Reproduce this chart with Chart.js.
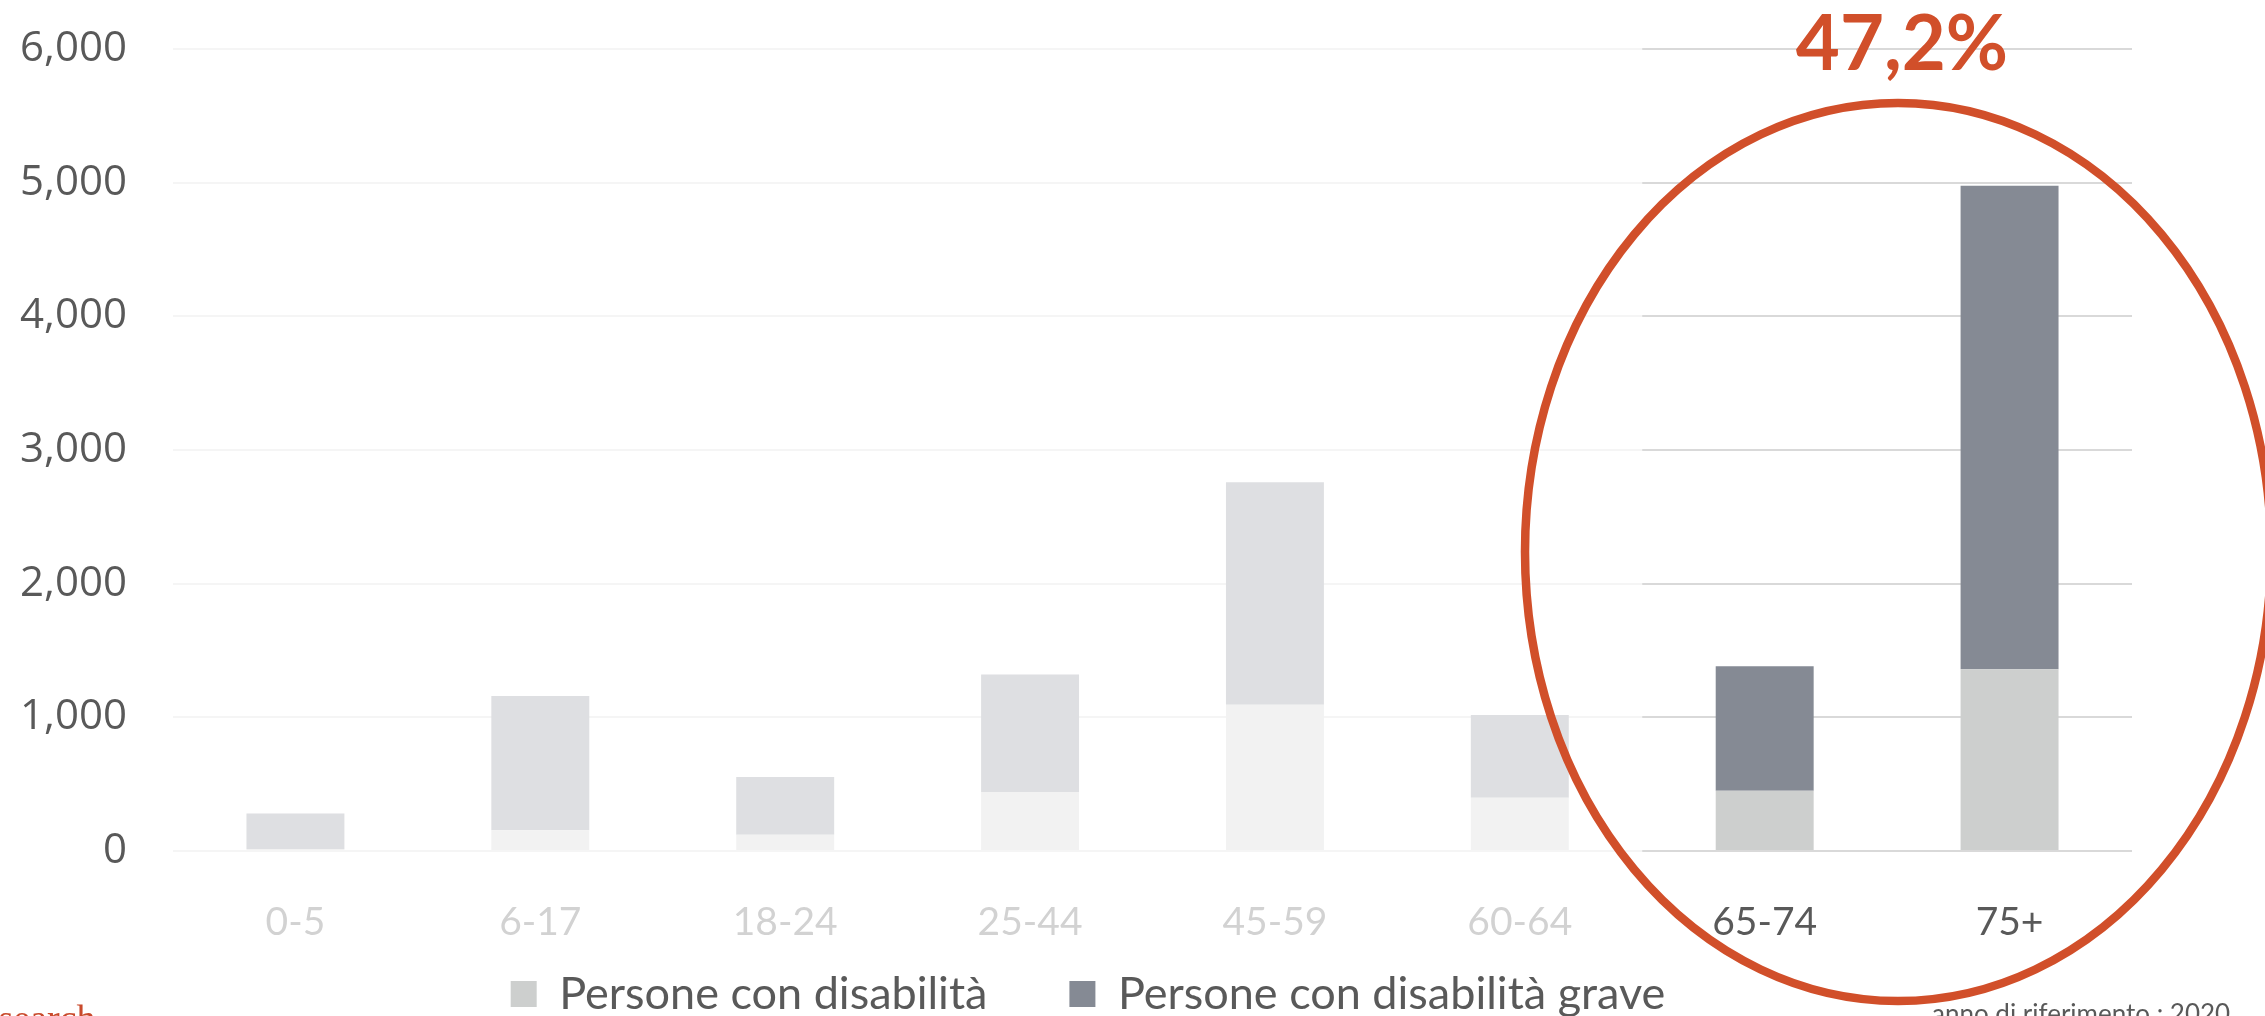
<!DOCTYPE html>
<html>
<head>
<meta charset="utf-8">
<title>Persone con disabilità per età</title>
<script src="https://cdn.jsdelivr.net/npm/chart.js@4.4.1/dist/chart.umd.min.js"></script>
<style>
  html, body { margin: 0; padding: 0; background: #fff; width: 2265px; height: 1016px; overflow: hidden; }
  #wrap { position: absolute; left: 0; top: 0; width: 2265px; height: 1098px; }
  .note { position: absolute; white-space: nowrap; line-height: 1; }
  #callout { left: 1702px; top: -5px; width: 400px; text-align: center; font: bold 76px Lato, sans-serif; color: #d14f2a; }
  #source { left: -31px; top: 996px; font: 38px 'Liberation Serif', serif; color: #c94a2c; }
  #year { left: 1932px; top: 997px; font: 26px Lato, sans-serif; color: #595959; }
</style>
</head>
<body>
<div id="wrap"><canvas id="chart"></canvas></div>
<div class="note" id="callout"></div>
<div class="note" id="source">research</div>
<div class="note" id="year">anno di riferimento : 2020</div>

<script>
// Data
const categories = ['0-5', '6-17', '18-24', '25-44', '45-59', '60-64', '65-74', '75+'];
const disabilita = [15, 155, 122, 441, 1094, 398, 451, 1360];
const disabilitaGrave = [265, 1004, 431, 879, 1664, 619, 931, 3616];
const seriesNames = ['Persone con disabilità', 'Persone con disabilità grave'];
const yMax = 6000;
const yStep = 1000;
const highlighted = ['65-74', '75+'];
const calloutText = '47,2%';

document.getElementById('callout').textContent = calloutText;

// legend sits a bit lower and more to the right than chart.js puts it
const legendPlace = {
    id: 'legendPlace',
    afterLayout(chart) {
        const lg = chart.legend;
        const pad = lg.options.labels.padding;
        const h = lg.height;
        lg.top = 994 - pad - 22.5;
        lg.bottom = lg.top + h;
        lg.left += 22;
        lg.right += 22;
    }
};

// fades the non highlighted groups and draws the red ring
const highlightPlugin = {
    id: 'highlight',
    afterDraw(chart) {
        const ctx = chart.ctx;
        const x = chart.scales.x;
        const area = chart.chartArea;
        const first = categories.indexOf(highlighted[0]);
        const edge = (x.getPixelForValue(first - 1) + x.getPixelForValue(first)) / 2;

        ctx.save();
        ctx.fillStyle = 'rgba(255, 255, 255, 0.73)';
        ctx.fillRect(area.left - 2, 0, edge - area.left + 2, 955);

        ctx.strokeStyle = '#d14f2a';
        ctx.lineWidth = 8.5;
        ctx.beginPath();
        ctx.ellipse(1898, 552, 373, 449, 0, 0, Math.PI * 2);
        ctx.stroke();
        ctx.restore();
    }
};

const ctx = document.getElementById('chart').getContext('2d');
new Chart(ctx, {
    type: 'bar',
    data: {
        labels: categories,
        datasets: [{
            label: seriesNames[0],
            data: disabilita,
            backgroundColor: '#cdcfce',
            categoryPercentage: 0.8,
            barPercentage: 0.5
        }, {
            label: seriesNames[1],
            data: disabilitaGrave,
            backgroundColor: '#858a94',
            categoryPercentage: 0.8,
            barPercentage: 0.5
        }]
    },
    options: {
        responsive: true,
        maintainAspectRatio: false,
        animation: false,
        layout: {
            padding: { left: 0, right: 133, top: 49, bottom: 0 }
        },
        scales: {
            x: {
                stacked: true,
                grid: { display: false },
                border: { display: false },
                ticks: {
                    color: '#595959',
                    padding: 40,
                    font: { family: 'Lato', size: 39 }
                },
                afterFit(scale) { scale.height = 110; }
            },
            y: {
                stacked: true,
                min: 0,
                max: yMax,
                grid: { color: '#d9d9d9', lineWidth: 2, drawTicks: false },
                border: { display: false },
                ticks: {
                    stepSize: yStep,
                    color: '#595959',
                    padding: 46,
                    font: { family: 'Open Sans', size: 42 },
                    callback: (v) => v.toLocaleString('en-US')
                },
                afterFit(scale) {
                    scale.width = 173;
                    scale.paddingTop = 0;
                    scale.paddingBottom = 0;
                }
            }
        },
        plugins: {
            legend: {
                position: 'bottom',
                labels: {
                    color: '#595959',
                    boxWidth: 26,
                    boxHeight: 26,
                    padding: 82,
                    font: { family: 'Lato', size: 45 }
                }
            },
            tooltip: { enabled: false }
        }
    },
    plugins: [legendPlace, highlightPlugin]
});
</script>
</body>
</html>
